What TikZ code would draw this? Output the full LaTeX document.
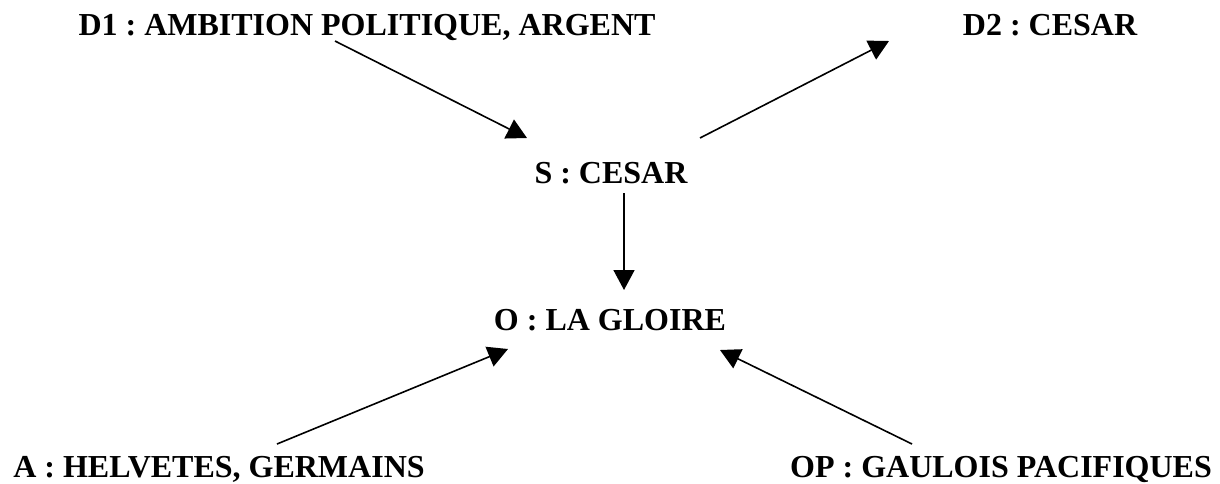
\documentclass[tikz,border=0pt]{standalone}
\usepackage{fontspec}
\setmainfont{Liberation Serif}
\frenchspacing
\usetikzlibrary{arrows.meta}
\begin{document}
\begin{tikzpicture}[x=0.5pt,y=-0.5pt,
  actant/.style={inner sep=0pt,anchor=base,font=\fontsize{16pt}{18pt}\selectfont\bfseries},
  link/.style={line width=0.8pt,-{Triangle[length=10pt,width=10.5pt]}}]
\useasboundingbox (0,0) rectangle (1220,483);
\node[actant] (d1) at (367,35) {D1 : AMBITION POLITIQUE, ARGENT};
\node[actant] (d2) at (1050,35) {D2 : CESAR};
\node[actant] (s) at (611,183) {S : CESAR};
\node[actant] (o) at (610,330) {O : LA GLOIRE};
\node[actant] (a) at (219,477) {A : HELVETES, GERMAINS};
\node[actant] (op) at (1001,477) {OP : GAULOIS PACIFIQUES};
\coordinate (d1out) at (335,41);
\coordinate (sin) at (527,138);
\coordinate (sout) at (700,138);
\coordinate (d2in) at (889,41);
\coordinate (sdown) at (624,193);
\coordinate (oin) at (624,290);
\coordinate (aout) at (277,444);
\coordinate (oinl) at (508,349);
\coordinate (opout) at (912,444);
\coordinate (oinr) at (720,350);
\draw[link] (d1out) -- (sin);
\draw[link] (sout) -- (d2in);
\draw[link] (sdown) -- (oin);
\draw[link] (aout) -- (oinl);
\draw[link] (opout) -- (oinr);
\end{tikzpicture}
\end{document}
